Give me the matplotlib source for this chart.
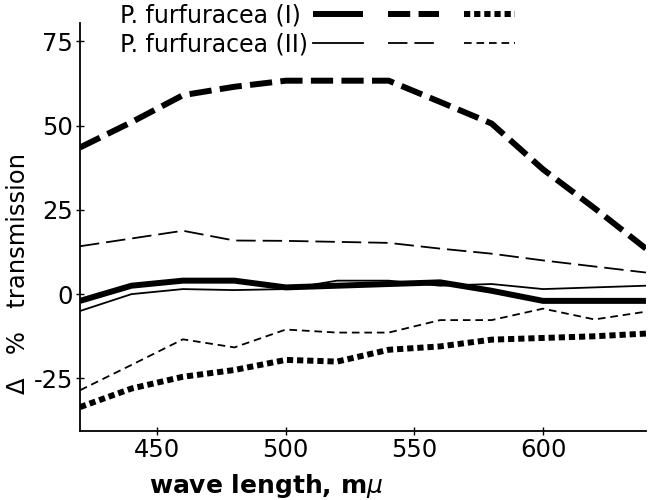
import matplotlib
matplotlib.use("Agg")
import matplotlib.pyplot as plt

plt.rcParams['lines.scale_dashes'] = False
plt.rcParams['axes.unicode_minus'] = False
plt.rcParams['font.family'] = ['DejaVu Sans']

# wave length, m-mu
wl = [420, 440, 460, 480, 500, 520, 540, 560, 580, 600, 620, 640]

# P. furfuracea (I)
I_solid = [-2, 2.5, 4, 4, 2, 2.5, 3, 3.5, 1, -2, -2, -2]
I_dash = [43.5, 51, 59, 61.5, 63.3, 63.3, 63.3, 57, 50.6, 37, 25.5, 13.5]
I_dot = [-33.5, -28, -24.5, -22.5, -19.5, -20, -16.5, -15.5, -13.5, -13, -12.5, -11.7]

# P. furfuracea (II)
II_solid = [-5, 0, 1.5, 1.2, 1.5, 4, 4, 2.5, 3, 1.5, 2, 2.5]
II_dash = [14.2, 16.5, 18.8, 15.9, 15.8, 15.5, 15.2, 13.5, 12, 10, 8.2, 6.4]
II_dot = [-28.5, -21, -13.4, -15.8, -10.5, -11.4, -11.4, -7.7, -7.7, -4.3, -7.5, -5.2]

fig = plt.figure(figsize=(6.52, 5.0), dpi=100)
ax = fig.add_axes([0.1227, 0.1386, 0.868, 0.816])

heavy = 4.3
thin = 1.3

l1, = ax.plot(wl, I_solid, color='black', lw=heavy, solid_capstyle='butt')
l2, = ax.plot(wl, I_dash, color='black', lw=heavy, dashes=(16, 6))
l3, = ax.plot(wl, I_dot, color='black', lw=heavy, dashes=(4.5, 2.8))
l4, = ax.plot(wl, II_solid, color='black', lw=thin)
l5, = ax.plot(wl, II_dash, color='black', lw=thin, dashes=(14, 5))
l6, = ax.plot(wl, II_dot, color='black', lw=thin, dashes=(5.5, 3.5))

ax.set_xlim(420, 640)
ax.set_ylim(-40.5, 80.5)
ax.set_xticks([450, 500, 550, 600])
ax.set_yticks([-25, 0, 25, 50, 75])
ax.tick_params(direction='inout', length=6, width=1, labelsize=17.5, pad=2)
for s in ['top', 'right']:
    ax.spines[s].set_visible(False)
for s in ['left', 'bottom']:
    ax.spines[s].set_linewidth(1.3)

ax.set_xlabel(r'wave length, m$\mu$', fontsize=18, fontweight='bold')
ax.xaxis.set_label_coords(0.329, -0.1)
ax.set_ylabel('\u0394   %   transmission', fontsize=17.5)
ax.yaxis.set_label_coords(-0.088, 0.385)

leg = ax.legend([l1, l4, l2, l5, l3, l6],
                ['P. furfuracea (I) ', 'P. furfuracea (II)', '', '', '', ''],
                ncol=3, markerfirst=False, frameon=False,
                loc='center left', bbox_to_anchor=(0.07, 0.982),
                borderpad=0, borderaxespad=0, fontsize=17,
                handlelength=2.15, handletextpad=0.2, columnspacing=0.85,
                labelspacing=0.2)

fig.savefig('out.png', dpi=100)
